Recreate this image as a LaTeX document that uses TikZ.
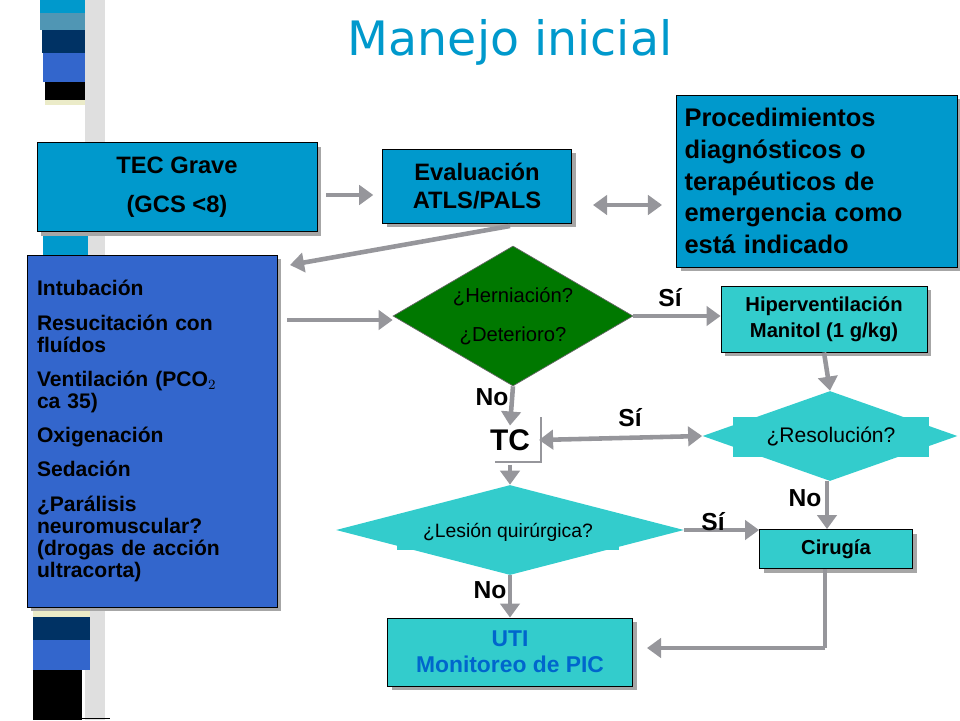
\documentclass[tikz,border=0pt]{standalone}
\usepackage{fontspec}
\setmainfont{Liberation Sans}
\newfontfamily\titlefont{DejaVu Sans}
\usetikzlibrary{positioning, arrows.meta, shapes.geometric, shadows}
\definecolor{cyanbox}{RGB}{0,153,204}
\definecolor{bluebox}{RGB}{51,102,204}
\definecolor{tealbox}{RGB}{51,204,204}
\definecolor{greenbox}{RGB}{0,120,0}
\definecolor{arrowgray}{RGB}{150,150,155}
\definecolor{navy}{RGB}{0,50,100}
\definecolor{steel}{RGB}{80,150,180}
\definecolor{cream}{RGB}{235,235,200}
\definecolor{utiblue}{RGB}{0,102,204}

\begin{document}
\begin{tikzpicture}[x=0.02cm, y=-0.02cm,
    box/.style={rectangle, draw=black, line width=0.5pt, inner sep=2pt,
                drop shadow={shadow xshift=2.5pt, shadow yshift=-2.5pt, fill=gray!70, opacity=1},
                font=\bfseries, align=center},
    diam/.style={diamond, inner sep=0pt, draw=none},
    arrow/.style={-{Triangle[length=8pt, width=11pt]}, line width=2.6pt, draw=arrowgray},
    darrow/.style={{Triangle[length=8pt, width=11pt]}-{Triangle[length=8pt, width=11pt]}, line width=2.6pt, draw=arrowgray},
    answer/.style={font=\bfseries\fontsize{14}{15}\selectfont}
]
    \useasboundingbox (0,0) rectangle (960,720);

    % Stripe on the left
    \fill[gray!25] (85,0) rectangle (105,720);
    \fill[cyanbox] (40,0) rectangle (85,13);
    \fill[steel] (40,13) rectangle (85,30);
    \fill[navy] (42,30) rectangle (85,53);
    \fill[bluebox] (43,53) rectangle (85,82);
    \fill[black] (45,82) rectangle (85,100);
    \fill[cream] (45,100) rectangle (85,105);
    \fill[cyanbox] (43,232) rectangle (88,255);
    \fill[cream] (33,607) rectangle (90,617);
    \fill[navy] (33,617) rectangle (90,640);
    \fill[bluebox] (33,640) rectangle (90,670);
    \fill[black] (33,670) rectangle (82,720);
    \draw[black] (82,718) -- (110,718);

    % Title
    \node[font=\titlefont\fontsize{27}{30}\selectfont, text=cyanbox] (title) at (510,42) {Manejo inicial};

    % Boxes
    \node[box, fill=cyanbox, minimum width=5.6cm, minimum height=1.78cm,
          font=\bfseries\fontsize{13.5}{22}\selectfont] (tec) at (177,187) {TEC Grave\\(GCS <8)};
    \node[box, fill=bluebox, minimum width=5.0cm, minimum height=7.04cm, text width=4.6cm,
          align=left, font=\bfseries\fontsize{12}{12.5}\selectfont] (intub) at (152,431)
          {Intubación\\[7pt] Resucitación con\\fluídos\\[7pt] Ventilación (PCO$_2$\\ca 35)\\[7pt]
           Oxigenación\\[7pt] Sedación\\[7pt] ¿Parálisis\\neuromuscular?\\(drogas de acción\\ultracorta)};
    \node[box, fill=cyanbox, minimum width=3.78cm, minimum height=1.48cm,
          font=\bfseries\fontsize{13.5}{16}\selectfont] (eval) at (477,186) {Evaluación\\ATLS/PALS};
    \node[box, fill=cyanbox, minimum width=5.62cm, minimum height=3.44cm, text width=5.3cm,
          align=left, font=\bfseries\fontsize{14.5}{18}\selectfont] (proc) at (817,181)
          {Procedimientos\\diagnósticos o\\terapéuticos de\\emergencia como\\está indicado};
    \node[box, fill=tealbox, minimum width=4.12cm, minimum height=1.32cm,
          font=\bfseries\fontsize{11.5}{15}\selectfont] (hiper) at (824,319) {Hiperventilación\\Manitol (1 g/kg)};
    \node[box, fill=tealbox, minimum width=3.06cm, minimum height=0.78cm,
          font=\bfseries\fontsize{11.5}{12}\selectfont] (cirugia) at (836,549) {Cirugía};
    \node[box, fill=tealbox, minimum width=4.9cm, minimum height=1.36cm, text=utiblue,
          font=\bfseries\fontsize{13}{15}\selectfont] (uti) at (510,652) {UTI\\Monitoreo de PIC};

    % Decisions
    \node[diam, fill=greenbox, draw=black!60, minimum width=4.8cm, minimum height=2.8cm, aspect=1.71,
          font=\fontsize{11.5}{22}\selectfont, align=center] (hern) at (513,316) {¿Herniación?\\¿Deterioro?};
    \node[diam, fill=tealbox, minimum width=5.1cm, minimum height=1.8cm, aspect=2.8] (resol) at (830,436) {};
    \node[fill=tealbox, minimum width=3.94cm, minimum height=0.8cm, font=\fontsize{12}{13}\selectfont] (resoltxt) at (831,437) {¿Resolución?};
    \node[diam, fill=tealbox, minimum width=6.96cm, minimum height=1.8cm, aspect=3.9] (lesion) at (510,530) {};
    \node[fill=tealbox, minimum width=4.46cm, minimum height=0.72cm, font=\fontsize{11}{12}\selectfont] (lesiontxt) at (508,532) {¿Lesión quirúrgica?};

    % TC
    \node[font=\rmfamily\bfseries\fontsize{17}{20}\selectfont, inner sep=2pt] (tc) at (510,440) {TC};
    \draw[arrowgray, line width=0.8pt] (541,417) -- (541,462) -- (495,462);

    % Connectors
    \coordinate (evalout) at (510,226);
    \coordinate (corner) at (825,648);
    \draw[arrow] ([xshift=5pt]tec.east |- 0,195) -- ([xshift=-5pt]eval.west |- 0,195);
    \draw[darrow] ([xshift=12pt]eval.east |- 0,205) -- ([xshift=-8pt]proc.west |- 0,205);
    \draw[arrow] (evalout) -- (290,265);
    \draw[arrow] (287,320) -- (hern.west |- 0,320);
    \draw[arrow] (hern.east) -- (hiper.west |- hern.east);
    \draw[arrow] (hern.south) -- (tc.north);
    \draw[arrow] (hiper.south) -- (resol.north);
    \draw[darrow] ([xshift=3pt]tc.east) -- (resol.west);
    \draw[arrow] ([yshift=-6pt]tc.south) -- (lesion.north);
    \draw[arrow] (resol.south -| 827,0) -- (cirugia.north -| 827,0);
    \draw[arrow] (lesion.east) -- (cirugia.west |- lesion.east);
    \draw[arrow] (lesion.south) -- (uti.north);
    \draw[line width=2.6pt, arrowgray] (cirugia.south -| 825,0) -- (corner);
    \draw[arrow] (corner) -- ([xshift=8pt]uti.east |- corner);

    % Answers
    \node[answer] (si1) at (670,298) {Sí};
    \node[answer] (no1) at (492,397) {No};
    \node[answer] (si2) at (630,418) {Sí};
    \node[answer] (no2) at (805,498) {No};
    \node[answer] (si3) at (713,522) {Sí};
    \node[answer] (no3) at (490,590) {No};
\end{tikzpicture}
\end{document}
